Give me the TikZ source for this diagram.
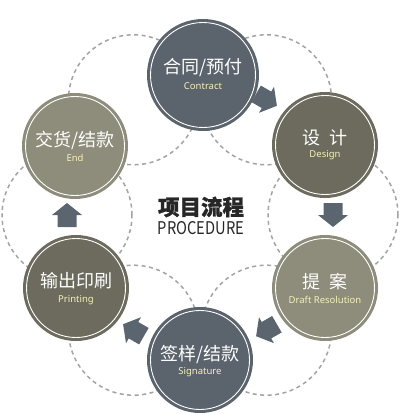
\documentclass[tikz,border=0pt]{standalone}
\usepackage{fontspec}
\setmainfont{Noto Sans}
\newfontfamily\cjk{Noto Sans CJK SC}[BoldFeatures={FakeBold=1.2}]
\usetikzlibrary{calc}
\definecolor{slate}{HTML}{5B636C}
\definecolor{olivedk}{HTML}{6D6B5E}
\definecolor{olivelt}{HTML}{8E8C7A}
\definecolor{arrowcol}{HTML}{5B6570}
\definecolor{dashcol}{HTML}{A3A3A3}
\definecolor{entext}{HTML}{F6F2B8}
\tikzset{
  disc/.style={circle, inner sep=0pt, outer sep=0pt, minimum size=106pt},
  ring/.style={draw=white, line width=0.9pt},
  dashring/.style={draw=dashcol, line width=1.5pt, dash pattern=on 4pt off 3.5pt},
  zh/.style={text=white, font=\cjk\fontsize{18}{20}\selectfont, inner sep=0pt},
  en/.style={text=entext, font=\fontsize{9.5}{10}\selectfont, inner sep=0pt},
  pics/blkarrow/.style={code={
    \fill[arrowcol] (-12pt,-9.5pt) -- (0pt,-9.5pt) -- (0pt,-15pt) -- (12pt,0pt)
      -- (0pt,15pt) -- (0pt,9.5pt) -- (-12pt,9.5pt) -- cycle;}}
}
\begin{document}
\begin{tikzpicture}[x=1pt,y=-1pt]
\useasboundingbox (0,0) rectangle (403,415);
% dashed connecting rings
\draw[dashring] (266.5,99.8) circle (65pt);
\draw[dashring] (333,215) circle (65pt);
\draw[dashring] (266.5,330.2) circle (65pt);
\draw[dashring] (133.5,330.2) circle (65pt);
\draw[dashring] (67,215) circle (65pt);
\draw[dashring] (133.5,99.8) circle (65pt);
% stages
\node[disc, fill=slate, minimum size=112pt] (contract) at (203,75) {};
\draw[ring] (contract.center) circle (52.5pt);
\node[zh] (contract-zh) at (203,68) {合同/预付};
\node[en] (contract-en) at (203,86) {Contract};

\node[disc, fill=olivedk] (design) at (325,145) {};
\draw[ring] (design.center) circle (49.5pt);
\node[zh] (design-zh) at (325,138) {设\hspace{0.5em}计};
\node[en] (design-en) at (325,155) {Design};

\node[disc, fill=olivelt] (draft) at (325,288) {};
\draw[ring] (draft.center) circle (49.5pt);
\node[zh] (draft-zh) at (325,282) {提\hspace{0.5em}案};
\node[en] (draft-en) at (325,300) {Draft Resolution};

\node[disc, fill=slate] (sign) at (200,360) {};
\draw[ring] (sign.center) circle (49.5pt);
\node[zh] (sign-zh) at (200,355) {签样/结款};
\node[en] (sign-en) at (200,372) {Signature};

\node[disc, fill=olivedk] (print) at (76,288) {};
\draw[ring] (print.center) circle (49.5pt);
\node[zh] (print-zh) at (76,281) {输出印刷};
\node[en] (print-en) at (76,300) {Printing};

\node[disc, fill=olivelt] (end) at (75,146) {};
\draw[ring] (end.center) circle (49.5pt);
\node[zh] (end-zh) at (75,140) {交货/结款};
\node[en] (end-en) at (75,158) {End};
% block arrows
\pic[rotate=-30] at (266.5,99.8) {blkarrow};
\pic[rotate=-90] at (333,215) {blkarrow};
\pic[rotate=-150] at (266.5,330.2) {blkarrow};
\pic[rotate=150] at (133.5,330.2) {blkarrow};
\pic[rotate=90] at (67,215) {blkarrow};
% title
\node[inner sep=0pt, text=black!85, font=\cjk\bfseries\fontsize{21.5}{22}\selectfont] (title) at (201,207) {项目流程};
\node[inner sep=0pt, text=black!85, font=\cjk\fontsize{17.5}{18}\selectfont] (subtitle) at (201,228) {\scalebox{0.84}[1]{PROCEDURE}};
\end{tikzpicture}
\end{document}
